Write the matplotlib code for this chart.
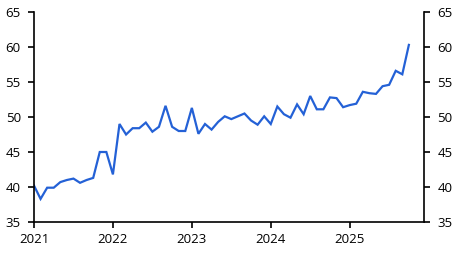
import matplotlib
matplotlib.use("Agg")
import matplotlib.pyplot as plt
import numpy as np

values_2021 = [40.2, 38.3, 39.9, 39.9, 40.7, 41.0, 41.2, 40.6, 41.0, 41.3, 45.0, 45.0]
values_2022 = [41.8, 49.0, 47.5, 48.4, 48.4, 49.2, 47.9, 48.6, 51.6, 48.6, 48.0, 48.0]
values_2023 = [51.3, 47.6, 49.0, 48.2, 49.3, 50.1, 49.7, 50.1, 50.5, 49.5, 48.9, 50.1]
values_2024 = [49.0, 51.5, 50.4, 49.9, 51.8, 50.4, 53.0, 51.1, 51.1, 52.8, 52.7, 51.4]
values_2025 = [51.7, 51.9, 53.6, 53.4, 53.3, 54.4, 54.6, 56.6, 56.1, 60.3]
year_labels = ["2021", "2022", "2023", "2024", "2025"]
y_ticks = [35, 40, 45, 50, 55, 60, 65]

values = values_2021 + values_2022 + values_2023 + values_2024 + values_2025
months = np.arange(len(values))

plt.rcParams['font.family'] = ['Open Sans', 'DejaVu Sans']

fig = plt.figure(figsize=(4.6, 2.54), dpi=100)
ax = fig.add_axes([34/460, 32/254, 390/460, 210/254])
ax.plot(months, values, color='#2461D6', lw=1.6, solid_joinstyle='miter')

ax.set_xlim(0, 59.3)
ax.set_ylim(35, 65)
ax.set_xticks([12 * i for i in range(len(year_labels))])
ax.set_xticklabels(year_labels)
ax.set_yticks(y_ticks)
ax.spines['top'].set_visible(False)
for s in ['left', 'right', 'bottom']:
    ax.spines[s].set_linewidth(1.2)
    ax.spines[s].set_color('black')
ax.tick_params(axis='both', direction='out', length=4, width=1.2, labelsize=9.5, colors='black')
ax.tick_params(axis='y', which='both', right=True, labelright=True, pad=5.5)
ax.tick_params(axis='x', pad=4)

fig.savefig('out.png', dpi=100)
